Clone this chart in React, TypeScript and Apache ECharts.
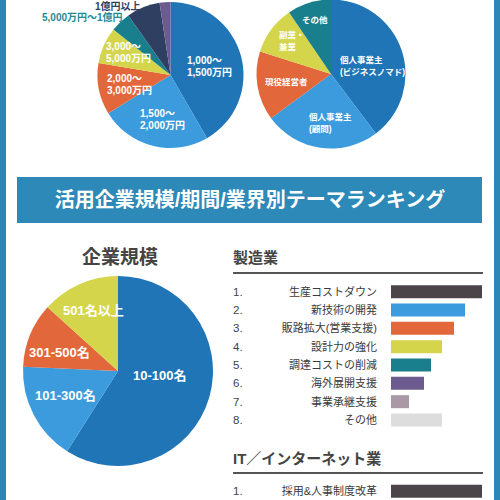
import React, { useEffect, useRef } from "react";
import * as echarts from "echarts";

// ---------- data ----------
const incomeNames = ["1,000〜\n1,500万円", "1,500〜\n2,000万円", "2,000〜\n3,000万円", "3,000〜\n5,000万円", "5,000万円〜1億円", "1億円以上", "その他"];
const incomeValues = [41.7, 24.6, 11.4, 8.1, 4.5, 7.4, 2.4];

const typeNames = ["個人事業主\n(ビジネスノマド)", "個人事業主\n(顧問)", "現役経営者", "副業・\n兼業", "その他"];
const typeValues = [39.7, 25.2, 15.0, 10.6, 9.5];

const sizeNames = ["10-100名", "101-300名", "301-500名", "501名以上"];
const sizeValues = [59.0, 16.7, 11.0, 13.3];

const mfgThemes = ["生産コストダウン", "新技術の開発", "販路拡大(営業支援)", "設計力の強化", "調達コストの削減", "海外展開支援", "事業承継支援", "その他"];
const mfgScores = [91, 74, 63, 51, 40, 33, 18, 51];

const itThemes = ["採用&人事制度改革"];
const itScores = [91];

const headerTitle = "活用企業規模/期間/業界別テーマランキング";
const sizeTitle = "企業規模";
const mfgTitle = "製造業";
const itTitle = "IT／インターネット業";

// ---------- styles ----------
const FONT = "'Liberation Sans', 'Noto Sans CJK JP', sans-serif";
const pieColors = ["#1f75b6", "#3b9bdc", "#e2673a", "#d4d54b", "#1a7f8d", "#2f3f62", "#6b5b8e"];
const barColors = ["#4b4549", "#3b9bdc", "#e2673a", "#d4d54b", "#1a7f8d", "#6b5b8e", "#a899a5", "#dddddd"];
const stripe = "#2a87b6";

// label layout [left x, middle y, color]
const incomeLabelPos: [number, number, string][] = [
  [187, 66, "#fff"],
  [140, 119, "#fff"],
  [107, 84, "#fff"],
  [106, 52, "#fff"],
  [42, 17, "#1f8a96"],
  [95, 6, "#2f3f62"],
];
const typeLabelPos: [number, number][] = [
  [340, 66],
  [309, 123],
  [265, 82],
  [279, 41],
  [302, 20],
];
const sizeLabelPos: [number, number][] = [
  [133, 375],
  [35, 395],
  [29, 352],
  [63, 310],
];

export default function App() {
  const ref = useRef<HTMLDivElement>(null);
  useEffect(() => {
    if (!ref.current) return;
    const chart = echarts.init(ref.current, undefined, { renderer: "svg" });

    const pieData = (names: string[], values: number[]) =>
      names.map((n, i) => ({ name: n, value: values[i], itemStyle: { color: pieColors[i] } }));

    const txt = (text: string, x: number, y: number, size: number, color: string, weight = "bold", align = "left") => ({
      type: "text",
      x,
      y,
      z: 100,
      style: {
        text,
        fill: color,
        fontSize: size,
        fontWeight: weight,
        fontFamily: FONT,
        align,
        verticalAlign: "middle",
      },
    });

    const multi = (out: any[], text: string, x: number, y: number, size: number, color: string, lh: number) => {
      const lines = text.split("\n");
      lines.forEach((ln, k) => out.push(txt(ln, x, y + (k - (lines.length - 1) / 2) * lh, size, color)));
    };

    const graphics: any[] = [
      { type: "rect", shape: { x: 0, y: 0, width: 6, height: 500 }, style: { fill: stripe } },
      { type: "rect", shape: { x: 494, y: 0, width: 6, height: 500 }, style: { fill: stripe } },
      { type: "rect", shape: { x: 17, y: 177, width: 465, height: 46 }, style: { fill: "#2d89b8" } },
      txt(headerTitle, 250, 200, 20, "#fff", "bold", "center"),
      txt(sizeTitle, 120, 257, 19, "#444", "bold", "center"),
      txt(mfgTitle, 233, 257, 15, "#444"),
      { type: "line", shape: { x1: 233, y1: 273, x2: 483, y2: 273 }, style: { stroke: "#555", lineWidth: 2 } },
      txt(itTitle, 233, 458, 15, "#444"),
      { type: "line", shape: { x1: 233, y1: 473, x2: 483, y2: 473 }, style: { stroke: "#555", lineWidth: 2 } },
    ];
    incomeLabelPos.forEach((p, i) => multi(graphics, incomeNames[i], p[0], p[1], 10, p[2], 12));
    typeLabelPos.forEach((p, i) => multi(graphics, typeNames[i], p[0], p[1], 8.5, "#fff", 12));
    sizeLabelPos.forEach((p, i) => multi(graphics, sizeNames[i], p[0], p[1], 13, "#fff", 16));

    const rowH = 18.33;
    const gridLeft = 391;
    const rankAxis = (cats: string[], gridIndex: number) => ({
      type: "category",
      gridIndex,
      data: cats,
      inverse: true,
      position: "left",
      axisLine: { show: false },
      axisTick: { show: false },
      axisLabel: {
        margin: gridLeft - 233,
        align: "left",
        fontSize: 11.5,
        color: "#444",
        fontFamily: FONT,
        formatter: (_v: string, idx: number) => `${idx + 1}.`,
      },
    });
    const nameAxis = (cats: string[], gridIndex: number) => ({
      type: "category",
      gridIndex,
      data: cats,
      inverse: true,
      position: "left",
      axisLine: { show: false },
      axisTick: { show: false },
      axisLabel: { margin: 14, fontSize: 11, color: "#3a3a3a", fontFamily: FONT },
    });

    chart.setOption({
      animation: false,
      graphic: graphics,
      grid: [
        { left: gridLeft, top: 291.7 - rowH / 2, width: 91, height: rowH * mfgThemes.length },
        { left: gridLeft, top: 491.5 - rowH / 2, width: 91, height: rowH * itThemes.length },
      ],
      xAxis: [
        { type: "value", gridIndex: 0, min: 0, max: 91, show: false },
        { type: "value", gridIndex: 1, min: 0, max: 91, show: false },
      ],
      yAxis: [nameAxis(mfgThemes, 0), rankAxis(mfgThemes, 0), nameAxis(itThemes, 1), rankAxis(itThemes, 1)],
      series: [
        {
          type: "pie",
          center: [170.5, 75],
          radius: 73,
          startAngle: 90,
          clockwise: true,
          label: { show: false },
          labelLine: { show: false },
          itemStyle: { borderWidth: 0 },
          emphasis: { disabled: true },
          data: pieData(incomeNames, incomeValues),
        },
        {
          type: "pie",
          center: [331, 74],
          radius: 74.5,
          startAngle: 90,
          clockwise: true,
          label: { show: false },
          labelLine: { show: false },
          itemStyle: { borderWidth: 0 },
          emphasis: { disabled: true },
          data: pieData(typeNames, typeValues),
        },
        {
          type: "pie",
          center: [118, 371],
          radius: 95,
          startAngle: 90,
          clockwise: true,
          label: { show: false },
          labelLine: { show: false },
          itemStyle: { borderWidth: 0 },
          emphasis: { disabled: true },
          data: pieData(sizeNames, sizeValues),
        },
        {
          type: "bar",
          xAxisIndex: 0,
          yAxisIndex: 0,
          barWidth: 13,
          data: mfgScores.map((v, i) => ({ value: v, itemStyle: { color: barColors[i] } })),
        },
        {
          type: "bar",
          xAxisIndex: 1,
          yAxisIndex: 2,
          barWidth: 13,
          data: itScores.map((v, i) => ({ value: v, itemStyle: { color: barColors[i] } })),
        },
      ],
    });
    return () => chart.dispose();
  }, []);
  return (
    <div
      ref={ref}
      style={{ position: "fixed", left: 0, top: 0, width: 500, height: 500, background: "#fff" }}
    />
  );
}
